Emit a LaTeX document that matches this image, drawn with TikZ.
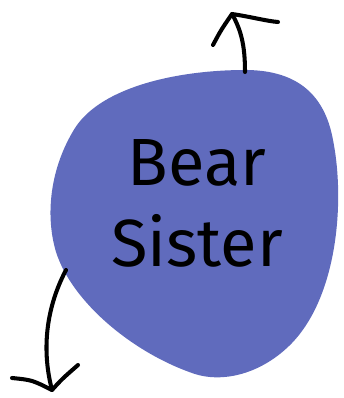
\documentclass[tikz,border=0pt]{standalone}
\usepackage{fontspec}
\setmainfont{Fira Sans}
\usepackage{tikz}
\usetikzlibrary{positioning}
\definecolor{blobblue}{RGB}{96,107,189}

\begin{document}
\begin{tikzpicture}[x=0.02cm,y=-0.02cm,
	pen/.style={black,line width=2.3pt,line cap=round,line join=round}]
	\useasboundingbox (0,0) rectangle (344,398);
	\fill[blobblue] (245,70) .. controls (292,70) and (324,90) .. (333,140) .. controls (345,200) and (338,295) .. (292,343) .. controls (262,374) and (222,384) .. (192,373) .. controls (132,352) and (72,302) .. (56,252) .. controls (45,215) and (50,168) .. (75,128) .. controls (102,86) and (180,70) .. (245,70) -- cycle;
	\node[font=\fontsize{38}{46}\selectfont,align=center] (name) at (197,203) {Bear\\Sister};
	\coordinate (topstart) at (245,72);
	\coordinate (toptip) at (232,14);
	\coordinate (botstart) at (66,270);
	\coordinate (bottip) at (52,390);
	\draw[pen] (topstart) .. controls (245,45) and (241,30) .. (toptip);
	\draw[pen] (213,45) .. controls (221,30) .. (toptip) .. controls (252,17) and (266,21) .. (278,22);
	\draw[pen] (botstart) .. controls (45,310) and (42,352) .. (bottip);
	\draw[pen] (12,378) .. controls (32,380) .. (bottip) .. controls (62,379) .. (78,365);
\end{tikzpicture}
\end{document}
